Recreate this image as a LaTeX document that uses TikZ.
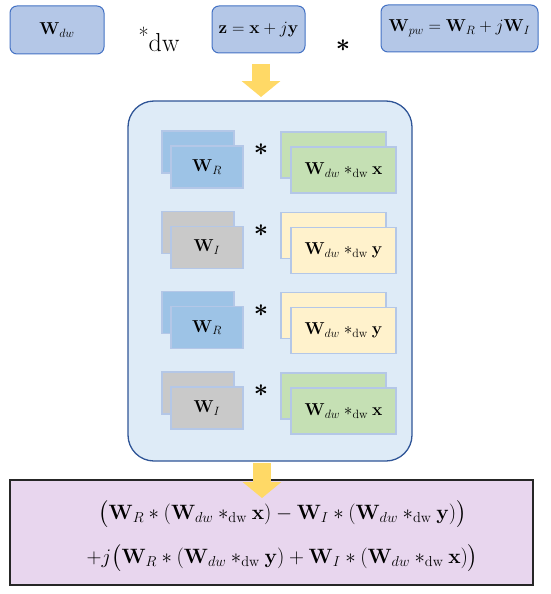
\documentclass[tikz,border=0pt]{standalone}
\usepackage{amssymb}
\usepackage{amsmath}
\usepackage{bm}
\usetikzlibrary{calc, arrows.meta}

\definecolor{topfill}{RGB}{180,199,231}
\definecolor{topline}{RGB}{68,114,196}
\definecolor{panelfill}{RGB}{222,235,247}
\definecolor{panelline}{RGB}{47,85,151}
\definecolor{wrfill}{RGB}{157,195,230}
\definecolor{wifill}{RGB}{201,201,201}
\definecolor{xfill}{RGB}{197,224,180}
\definecolor{yfill}{RGB}{255,242,204}
\definecolor{layerline}{RGB}{180,199,231}
\definecolor{arrowfill}{RGB}{255,217,102}
\definecolor{sumfill}{RGB}{232,214,238}

\begin{document}
\begin{tikzpicture}[x=1pt, y=-1pt,
    topbox/.style={draw=topline, fill=topfill, line width=1pt, rounded corners=7pt,
        font=\fontsize{16.5}{20}\selectfont, inner sep=0pt},
    layer/.style={draw=layerline, fill=#1, line width=1.2pt, inner sep=0pt,
        font=\fontsize{18}{22}\selectfont},
    bigstar/.style={font=\fontsize{32}{34}\selectfont, inner sep=0pt},
    bigarrow/.style={arrowfill, line width=18pt, -{Triangle[width=38pt, length=16pt]}}]
    \useasboundingbox (0,0) rectangle (550,594);

    \node[topbox, minimum width=94, minimum height=48] (wdw) at (57,30) {$\mathbf{W}_{dw}$};
    \node[inner sep=0pt, anchor=base] (dwop) at (159,52)
        {\fontsize{22}{24}\selectfont\raisebox{8pt}{*}\fontsize{26}{30}\selectfont dw};
    \node[topbox, minimum width=93, minimum height=47] (z) at (258.5,29.5) {$\mathbf{z}=\mathbf{x}+j\mathbf{y}$};
    \node[bigstar] (pwop) at (343,46) {$\boldsymbol{\ast}$};
    \node[topbox, minimum width=157, minimum height=47] (wpw) at (459.5,28.5)
        {$\mathbf{W}_{pw}=\mathbf{W}_R+j\mathbf{W}_I$};

    \draw[panelline, fill=panelfill, line width=1.3pt, rounded corners=26pt]
        (128,101) rectangle (412,461);
    \coordinate (panel) at (270,281);

    \foreach \r/\wc/\wl/\vc/\vl in {0/wrfill/R/xfill/x, 1/wifill/I/yfill/y,
                                    2/wrfill/R/yfill/y, 3/wifill/I/xfill/x}
    {
        \pgfmathsetmacro\t{131+80.3*\r}
        \node[layer=\wc, minimum width=72, minimum height=42] (wb\r) at (198,\t+21) {};
        \node[layer=\wc, minimum width=72, minimum height=42] (wf\r) at (207,\t+36) {$\mathbf{W}_\wl$};
        \node[bigstar] (s\r) at (261,\t+19) {$\boldsymbol{\ast}$};
        \node[layer=\vc, minimum width=105, minimum height=46] (vb\r) at (333.5,\t+24) {};
        \node[layer=\vc, minimum width=105, minimum height=46] (vf\r) at (343.5,\t+39)
            {$\mathbf{W}_{dw}\ast_{\mathrm{dw}}\mathbf{\vl}$};
    }

    \node[draw=black!85, fill=sumfill, line width=1.6pt, minimum width=523, minimum height=105,
        inner sep=0pt] (sum) at (271.5,532.5) {};
    \node[align=center, font=\fontsize{22.5}{44}\selectfont, inner sep=0pt] (sumtxt) at (282.5,536)
        {$\bigl(\mathbf{W}_R\ast(\mathbf{W}_{dw}\ast_{\mathrm{dw}}\mathbf{x})-\mathbf{W}_I\ast(\mathbf{W}_{dw}\ast_{\mathrm{dw}}\mathbf{y})\bigr)$\\
         $+j\bigl(\mathbf{W}_R\ast(\mathbf{W}_{dw}\ast_{\mathrm{dw}}\mathbf{y})+\mathbf{W}_I\ast(\mathbf{W}_{dw}\ast_{\mathrm{dw}}\mathbf{x})\bigr)$};

    \coordinate (a1) at (261,64);
    \coordinate (a2) at (261,97);
    \coordinate (b1) at (262,463);
    \coordinate (b2) at (262,498);
    \draw[bigarrow] (a1) -- (a2);
    \draw[bigarrow] (b1) -- (b2);
\end{tikzpicture}
\end{document}
